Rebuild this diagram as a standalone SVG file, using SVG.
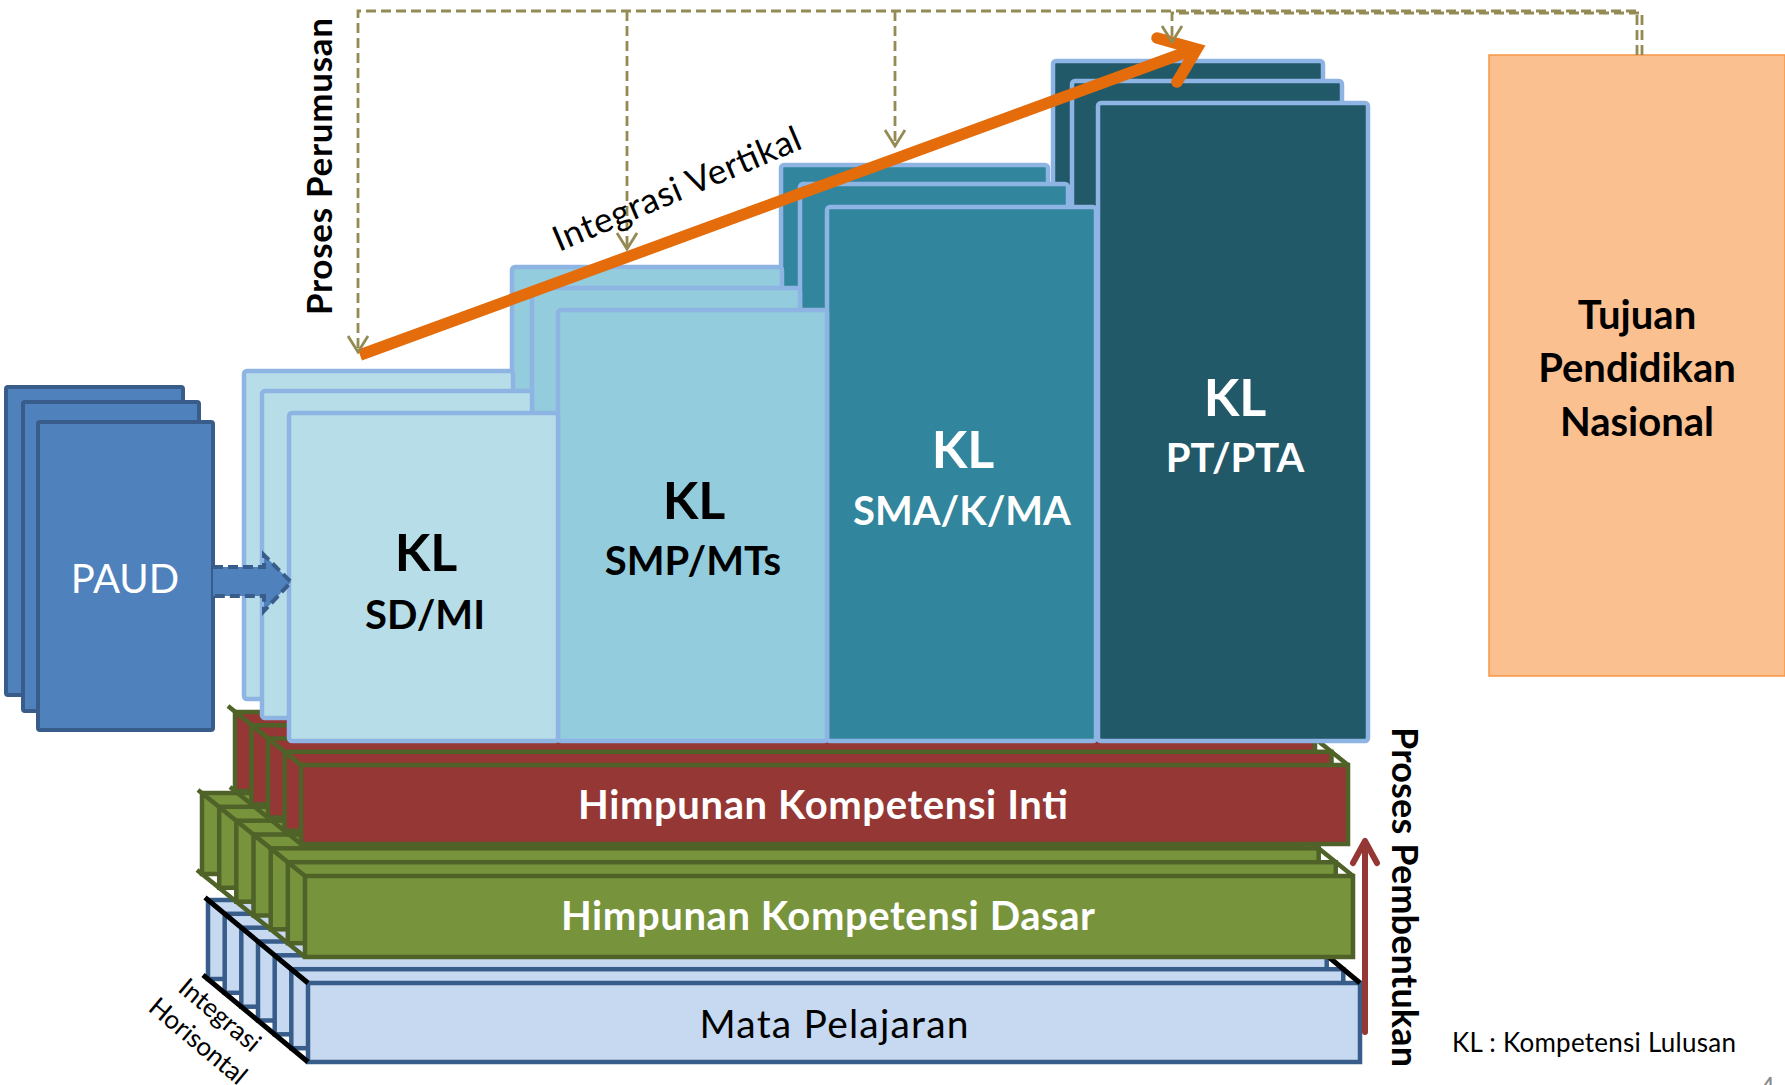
<svg xmlns="http://www.w3.org/2000/svg" width="1785" height="1085" viewBox="0 0 1785 1085">
<style>
text{font-family:Lato,'Open Sans',sans-serif}
.b{font-weight:bold}
.st{stroke:#8eb4e3;stroke-width:4.5}
.sd{fill:#b7dee8}.smp{fill:#93cddd}.sma{fill:#31859c}.pt{fill:#215968}
.paud{fill:#4f81bd;stroke:#385d8a;stroke-width:4}
.red{fill:#953735;stroke:#4f6228;stroke-width:4.5}
.grn{fill:#77933c;stroke:#4f6228;stroke-width:4.5}
.blu{fill:#c6d9f1;stroke:#385d8a;stroke-width:4.5}
.gl{stroke:#4f6228;stroke-width:4.5;fill:none}
.kl{stroke:#000;stroke-width:5;fill:none}
.dash{fill:none;stroke:#948a54;stroke-width:2.8;stroke-dasharray:10 5}
</style>
<defs>
<marker id="vh" viewBox="-18 -12 20 24" markerWidth="20" markerHeight="24" refX="0" refY="0" orient="auto" markerUnits="userSpaceOnUse">
<path d="M-16,-10 L0,0 L-16,10" fill="none" stroke="#948a54" stroke-width="2.8"/>
</marker>
</defs>
<rect width="1785" height="1085" fill="#fff"/>

<g id="mata-pelajaran">
<rect class="blu" x="208" y="900" width="1052" height="79"/>
<rect class="blu" x="224.7" y="913.8" width="1052" height="79"/>
<rect class="blu" x="241.3" y="927.7" width="1052" height="79"/>
<rect class="blu" x="258" y="941.5" width="1052" height="79"/>
<rect class="blu" x="274.7" y="955.3" width="1052" height="79"/>
<rect class="blu" x="291.3" y="969.2" width="1052" height="79"/>
<rect class="blu" x="308" y="983" width="1052" height="79"/>
<path class="kl" d="M205,897.5 L308,983 M203,975 L308,1062 M1260,900 L1360,983"/>
<text x="834" y="1038" font-size="39" text-anchor="middle" textLength="269">Mata Pelajaran</text>
</g>

<g id="kompetensi-dasar">
<rect class="grn" x="202" y="793" width="1048" height="81"/>
<rect class="grn" x="219.2" y="806.8" width="1048" height="81"/>
<rect class="grn" x="236.3" y="820.7" width="1048" height="81"/>
<rect class="grn" x="253.5" y="834.5" width="1048" height="81"/>
<rect class="grn" x="270.7" y="848.3" width="1048" height="81"/>
<rect class="grn" x="287.8" y="862.2" width="1048" height="81"/>
<rect class="grn" x="305" y="876" width="1048" height="81"/>
<path class="gl" d="M198,790 L305,876 M197,870 L305,957 M1250,793 L1353,876"/>
<text class="b" x="828" y="930" font-size="40" fill="#fff" text-anchor="middle" textLength="534">Himpunan Kompetensi Dasar</text>
</g>

<g id="kompetensi-inti">
<rect class="red" x="235" y="712" width="1047" height="79"/>
<rect class="red" x="251.5" y="725.3" width="1047" height="79"/>
<rect class="red" x="268" y="738.5" width="1047" height="79"/>
<rect class="red" x="284.5" y="751.8" width="1047" height="79"/>
<rect class="red" x="301" y="765" width="1047" height="79"/>
<path class="gl" d="M228,706 L301,765 M230,787 L301,844 M1282,712 L1348,765"/>
<text class="b" x="823" y="819" font-size="40" fill="#fff" text-anchor="middle" textLength="490">Himpunan Kompetensi Inti</text>
</g>

<g id="kl-pt">
<rect class="st pt" x="1053" y="61" width="270" height="638" rx="3"/>
<rect class="st pt" x="1072" y="81" width="270" height="637" rx="3"/>
<rect class="st pt" x="1098" y="103" width="270" height="638" rx="3"/>
<text class="b" x="1235" y="416" font-size="52" fill="#fff" text-anchor="middle">KL</text>
<text class="b" x="1235" y="472" font-size="40" fill="#fff" text-anchor="middle">PT/PTA</text>
</g>

<g id="kl-sma">
<rect class="st sma" x="781" y="165" width="267" height="534" rx="3"/>
<rect class="st sma" x="800" y="184" width="268" height="534" rx="3"/>
<rect class="st sma" x="827" y="207" width="269" height="534" rx="3"/>
<text class="b" x="963" y="468" font-size="52" fill="#fff" text-anchor="middle">KL</text>
<text class="b" x="962" y="525" font-size="40" fill="#fff" text-anchor="middle">SMA/K/MA</text>
</g>

<g id="kl-smp">
<rect class="st smp" x="512" y="267" width="270" height="432" rx="3"/>
<rect class="st smp" x="532" y="288" width="268" height="430" rx="3"/>
<rect class="st smp" x="558" y="310" width="269" height="431" rx="3"/>
<text class="b" x="694" y="519" font-size="52" fill="#000" text-anchor="middle">KL</text>
<text class="b" x="693" y="575" font-size="40" fill="#000" text-anchor="middle">SMP/MTs</text>
</g>

<g id="kl-sd">
<rect class="st sd" x="244" y="371" width="269" height="328" rx="3"/>
<rect class="st sd" x="262" y="391" width="270" height="327" rx="3"/>
<rect class="st sd" x="289" y="413" width="269" height="328" rx="3"/>
<text class="b" x="426" y="571" font-size="52" fill="#000" text-anchor="middle">KL</text>
<text class="b" x="425" y="629" font-size="40" fill="#000" text-anchor="middle">SD/MI</text>
</g>

<g id="paud">
<rect class="paud" x="6" y="387" width="177" height="308" rx="2"/>
<rect class="paud" x="23" y="402" width="176" height="309" rx="2"/>
<rect class="paud" x="38" y="422" width="175" height="308" rx="2"/>
<text x="125" y="593" font-size="40" fill="#fff" text-anchor="middle">PAUD</text>
</g>

<g id="tujuan">
<rect x="1489" y="55" width="296" height="621" fill="#fac090" stroke="#f79646" stroke-width="1.5"/>
<text class="b" font-size="40" fill="#000" text-anchor="middle"><tspan x="1637" y="329">Tujuan</tspan><tspan x="1637" y="382">Pendidikan</tspan><tspan x="1637" y="436">Nasional</tspan></text>
</g>

<g id="connectors">
<path d="M213,567 L264,567 L264,555 L291,582 L264,611 L264,596 L213,596" fill="#4f81bd" stroke="#385d8a" stroke-width="4" stroke-dasharray="10 5"/>
<path d="M360,355 L1192,50" stroke="#e46c0a" stroke-width="11.5" fill="none"/>
<polyline points="1157,38 1196.7,49.1 1177,82" fill="none" stroke="#e46c0a" stroke-width="11.5" stroke-linecap="round" stroke-linejoin="miter" stroke-miterlimit="6"/>
<path class="dash" d="M1637,55 V11 H358 V352" marker-end="url(#vh)"/>
<path class="dash" d="M1642,55 V13 H1172 V42" marker-end="url(#vh)"/>
<path class="dash" d="M627,11 V249" marker-end="url(#vh)"/>
<path class="dash" d="M895,11 V146" marker-end="url(#vh)"/>
<path d="M1365,1032 V845" stroke="#953735" stroke-width="6" fill="none" stroke-linecap="round"/>
<polyline points="1353,863 1365,841 1377,863" fill="none" stroke="#953735" stroke-width="6" stroke-linecap="round" stroke-linejoin="round"/>
</g>

<g id="labels">
<text class="b" transform="translate(332,315) rotate(-90)" font-size="35" textLength="297">Proses Perumusan</text>
<text class="b" transform="translate(1392,727) rotate(90)" font-size="36" textLength="340">Proses Pembentukan</text>
<text transform="translate(559,252) rotate(-23)" font-size="35" textLength="266">Integrasi Vertikal</text>
<g transform="translate(220,1015) rotate(40)">
<text x="0" y="9" font-size="26" text-anchor="middle">Integrasi</text>
<text x="0" y="43" font-size="26" text-anchor="middle">Horisontal</text>
</g>
<text x="1452" y="1052" font-size="26" textLength="284">KL : Kompetensi Lulusan</text>
<text x="1760" y="1097" font-size="26" fill="#8c8c8c">4</text>
</g>
</svg>
